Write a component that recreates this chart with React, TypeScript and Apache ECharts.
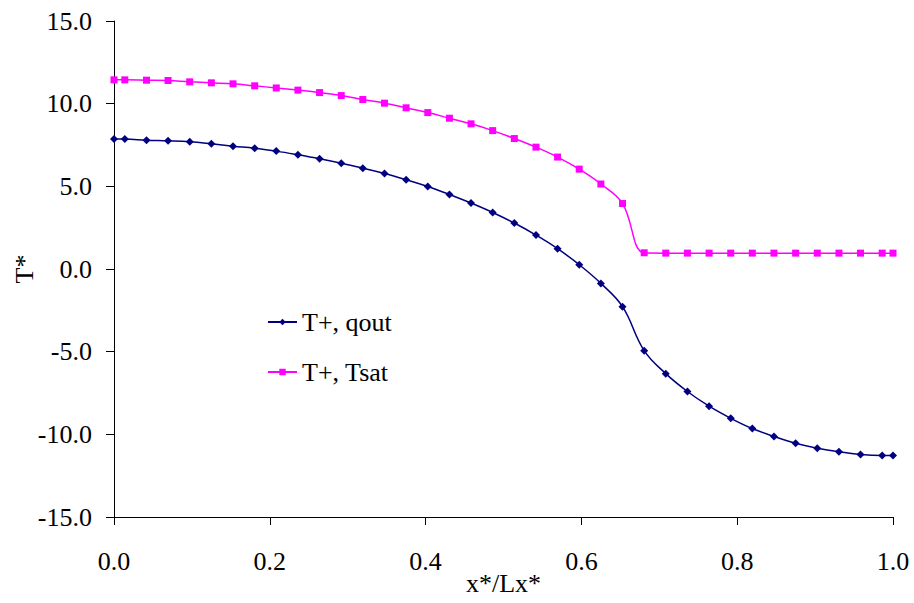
import React, { useEffect, useRef } from "react";
import * as echarts from "echarts";

const xValues = [
  0, 0.0139, 0.0417, 0.0694, 0.0972, 0.125, 0.1528, 0.1806, 0.2083, 0.2361,
  0.2639, 0.2917, 0.3194, 0.3472, 0.375, 0.4028, 0.4306, 0.4583, 0.4861,
  0.5139, 0.5417, 0.5694, 0.5972, 0.625, 0.6528, 0.6806, 0.7083, 0.7361,
  0.7639, 0.7917, 0.8194, 0.8472, 0.875, 0.9028, 0.9306, 0.9583, 0.9861, 1,
];

const qoutValues = [
  7.86, 7.86, 7.79, 7.75, 7.69, 7.57, 7.43, 7.31, 7.13, 6.91, 6.67, 6.4, 6.1,
  5.78, 5.4, 4.99, 4.51, 3.99, 3.42, 2.78, 2.05, 1.23, 0.26, -0.87, -2.28,
  -4.94, -6.33, -7.41, -8.3, -9.03, -9.65, -10.13, -10.54, -10.84, -11.06,
  -11.22, -11.28, -11.28,
];

const tsatValues = [
  11.44, 11.44, 11.42, 11.4, 11.32, 11.26, 11.2, 11.08, 10.95, 10.82, 10.67,
  10.49, 10.25, 10.03, 9.75, 9.46, 9.12, 8.78, 8.37, 7.89, 7.37, 6.77, 6.04,
  5.14, 3.96, 0.98, 0.96, 0.96, 0.96, 0.96, 0.96, 0.96, 0.96, 0.96, 0.96,
  0.96, 0.96, 0.96,
];

const seriesNames = ["T+, qout", "T+, Tsat"];
const xAxisName = "x*/Lx*";
const yAxisName = "T*";

const FONT = "Liberation Serif";

export default function App() {
  const ref = useRef<HTMLDivElement>(null);

  useEffect(() => {
    document.body.style.margin = "0";
    if (!ref.current) return;
    const chart = echarts.init(ref.current, undefined, { renderer: "svg" });
    const pair = (ys: number[]) => xValues.map((x, i) => [x, ys[i]]);
    chart.setOption({
      animation: false,
      backgroundColor: "#ffffff",
      textStyle: { fontFamily: FONT },
      grid: {
        left: 114,
        right: 21,
        top: 21,
        bottom: 86,
        containLabel: false,
        outerBoundsMode: "none",
      },
      legend: {
        orient: "vertical",
        left: 267,
        top: 309,
        padding: 0,
        itemWidth: 29,
        itemHeight: 8,
        itemGap: 24,
        textStyle: { fontFamily: FONT, fontSize: 26, color: "#000" },
        data: seriesNames,
      },
      xAxis: {
        type: "value",
        min: 0,
        max: 1,
        interval: 0.2,
        name: xAxisName,
        nameLocation: "middle",
        nameGap: 53,
        nameMoveOverlap: false,
        nameTextStyle: { fontFamily: FONT, fontSize: 26, color: "#000" },
        axisLine: { show: true, onZero: false, lineStyle: { color: "#000", width: 1 } },
        axisTick: { show: true, inside: false, length: 8, lineStyle: { color: "#000" } },
        axisLabel: {
          fontFamily: FONT,
          fontSize: 26,
          color: "#000",
          margin: 31,
          formatter: (v: number) => v.toFixed(1),
        },
        splitLine: { show: false },
      },
      yAxis: {
        type: "value",
        min: -15,
        max: 15,
        interval: 5,
        name: yAxisName,
        nameLocation: "middle",
        nameGap: 77,
        nameMoveOverlap: false,
        nameTextStyle: { fontFamily: FONT, fontSize: 26, color: "#000" },
        axisLine: { show: true, onZero: false, lineStyle: { color: "#000", width: 1 } },
        axisTick: { show: true, inside: false, length: 8, lineStyle: { color: "#000" } },
        axisLabel: {
          fontFamily: FONT,
          fontSize: 26,
          color: "#000",
          margin: 22,
          formatter: (v: number) => v.toFixed(1),
        },
        splitLine: { show: false },
      },
      series: [
        {
          name: seriesNames[0],
          type: "line",
          data: pair(qoutValues),
          smooth: 0.4,
          symbol: "diamond",
          symbolSize: 8,
          color: "#000080",
          lineStyle: { color: "#000080", width: 1.5 },
          itemStyle: { color: "#000080" },
        },
        {
          name: seriesNames[1],
          type: "line",
          data: pair(tsatValues),
          smooth: 0.4,
          symbol: "rect",
          symbolSize: 7,
          color: "#ff00ff",
          lineStyle: { color: "#ff00ff", width: 1.5 },
          itemStyle: { color: "#ff00ff" },
        },
      ],
    });
    return () => chart.dispose();
  }, []);

  return (
    <div
      ref={ref}
      style={{ position: "absolute", left: 0, top: 0, width: 914, height: 603, background: "#fff" }}
    />
  );
}
